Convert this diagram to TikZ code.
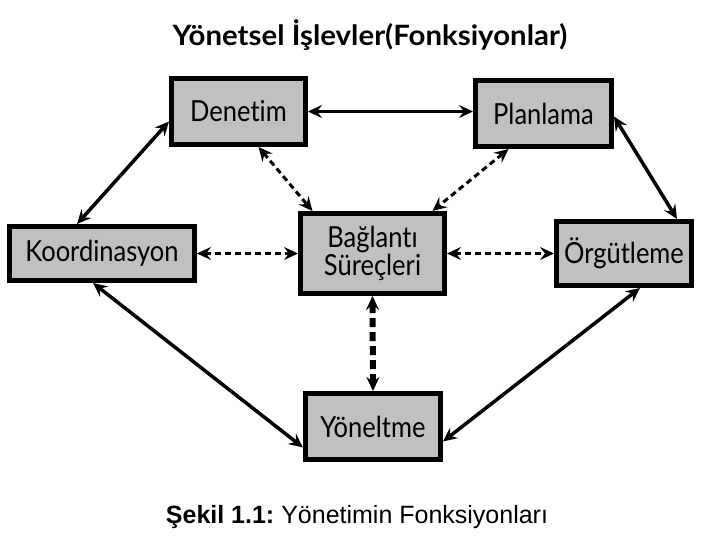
\documentclass[tikz,border=0pt]{standalone}
\usepackage{fontspec}
\setmainfont[FakeStretch=0.88,Ligatures=NoCommon]{Lato}
\newfontfamily\titlefont[FakeStretch=1.05,Ligatures=NoCommon]{Lato}
\newfontfamily\capfont{Liberation Sans}
\usetikzlibrary{arrows.meta}
\definecolor{boxgray}{RGB}{192,192,192}

\begin{document}
\begin{tikzpicture}[
  x=1pt,y=-1pt,
  func/.style={draw,line width=5pt,fill=boxgray,inner sep=2pt,align=center,
    font=\fontsize{29}{28}\selectfont},
  link/.style={{Stealth[length=14pt,width=13pt,inset=5pt]}-{Stealth[length=14pt,width=13pt,inset=5pt]},line width=3.5pt},
  flow/.style={link,line width=3pt,dash pattern=on 6pt off 4pt},
  mainflow/.style={link,line width=6pt,dash pattern=on 9pt off 5pt}
]
  \useasboundingbox (0,0) rectangle (720,540);

  \node[font=\titlefont\bfseries\fontsize{28}{30}\selectfont] (title) at (370,35) {Yönetsel İşlevler(Fonksiyonlar)};

  \node[func,minimum width=134pt,minimum height=66pt] (denetim) at (238.5,111.5) {Denetim};
  \node[func,minimum width=136pt,minimum height=66pt] (planlama) at (543.5,113.5) {Planlama};
  \node[func,minimum width=185pt,minimum height=54pt] (koordinasyon) at (102,253.5) {Koordinasyon};
  \node[func,minimum width=144pt,minimum height=80pt] (baglanti) at (372.5,253.5) {Bağlantı\\Süreçleri};
  \node[func,minimum width=135pt,minimum height=64pt] (orgutleme) at (624,253.5) {Örgütleme};
  \node[func,minimum width=135pt,minimum height=66pt] (yoneltme) at (373,426.5) {Yöneltme};

  \draw[link] (denetim.east) -- (planlama.west |- denetim.east);
  \draw[link] ([yshift=-10pt]denetim.west) -- ([xshift=-25pt]koordinasyon.north);
  \draw[link] ([yshift=-3pt]planlama.east) -- ([xshift=53pt]orgutleme.north);
  \draw[link] ([xshift=-9pt]koordinasyon.south) -- ([yshift=-21pt]yoneltme.west);
  \draw[link] ([xshift=16pt]orgutleme.south) -- ([yshift=-15pt]yoneltme.east);

  \draw[flow] ([xshift=20pt]denetim.south) -- ([xshift=-60pt]baglanti.north);
  \draw[flow] ([xshift=-35pt]planlama.south) -- ([xshift=60pt]baglanti.north);
  \draw[flow] (koordinasyon.east) -- (baglanti.west);
  \draw[flow] (baglanti.east) -- (orgutleme.west);
  \draw[mainflow] (baglanti.south) -- (yoneltme.north);

  \node[font=\capfont\fontsize{25}{28}\selectfont] (caption) at (357,517) {\textbf{Şekil 1.1:}~Yönetimin Fonksiyonları};
\end{tikzpicture}
\end{document}
